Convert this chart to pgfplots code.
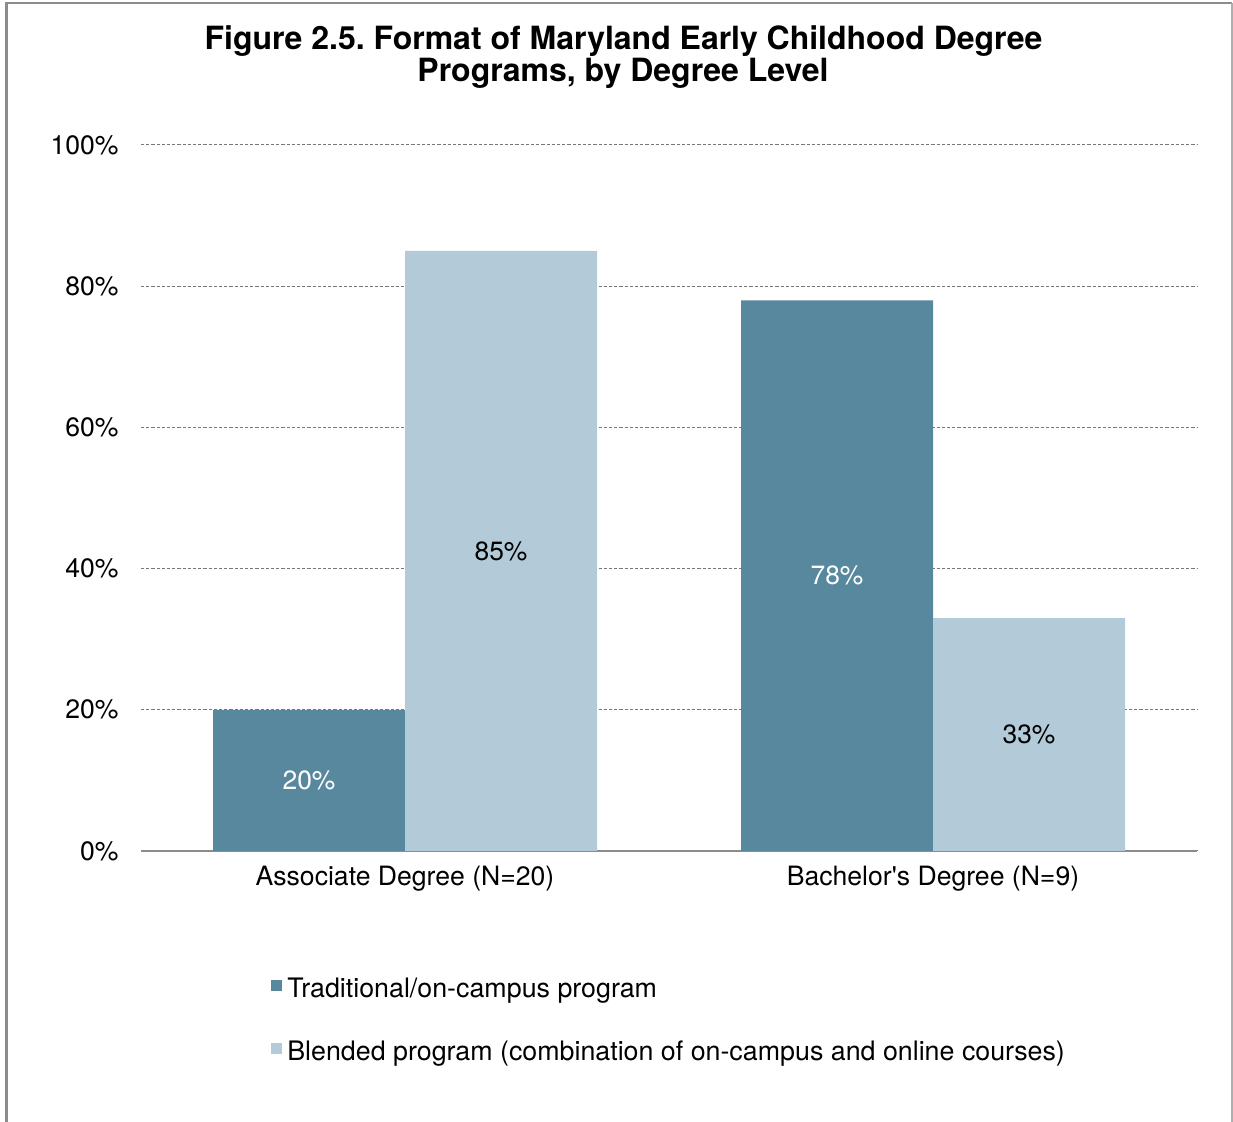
\documentclass[border=0pt]{standalone}
\usepackage{fontspec}
\setmainfont{TeX Gyre Heros}
\usepackage{pgfplots}
\pgfplotsset{compat=1.18}
\definecolor{darkbar}{RGB}{88,136,158}
\definecolor{lightbar}{RGB}{179,203,217}
\definecolor{gridgray}{RGB}{120,120,120}
\definecolor{framegray}{RGB}{140,140,140}
\frenchspacing
\begin{document}
\begin{tikzpicture}
\useasboundingbox (0pt,0pt) rectangle (616.5pt,561pt);
\draw[framegray, line width=1.2pt] (3.2pt,0pt) -- (3.2pt,559.6pt) -- (616pt,559.6pt);
\draw[framegray!70, line width=0.6pt] (616pt,559.6pt) -- (616pt,0pt);
\node[anchor=base, font=\fontsize{16}{16}\selectfont\bfseries] at (311.75pt,536pt) {Figure 2.5. Format of Maryland Early Childhood Degree};
\node[anchor=base, font=\fontsize{16}{16}\selectfont\bfseries] at (311.5pt,520pt) {Programs, by Degree Level};
\begin{axis}[
  at={(70.5pt,135.5pt)}, anchor=south west,
  scale only axis, width=528pt, height=353pt,
  ybar=0pt, bar width=96pt,
  xmin=-0.5, xmax=1.5, ymin=0, ymax=100,
  xtick={0,1},
  xticklabels={Associate Degree (N=20), Bachelor\textquotesingle s Degree (N=9)},
  ytick={0,20,40,60,80,100},
  yticklabels={0\%,20\%,40\%,60\%,80\%,100\%},
  ymajorgrids,
  grid style={gridgray, dash pattern=on 1.6pt off 1pt, line width=0.5pt},
  major tick length=0pt,
  axis x line*=bottom, axis y line*=left,
  y axis line style={draw=none},
  x axis line style={framegray, line width=1pt},
  tick label style={font=\fontsize{13.3}{15}\selectfont},
  yticklabel style={anchor=east, inner sep=0pt, xshift=-11pt},
  xticklabel style={anchor=base, inner sep=0pt, yshift=-17.5pt},
  /pgf/number format/assume math mode=true,
  nodes near coords={\pgfmathprintnumber{\pgfplotspointmeta}\%},
  visualization depends on={rawy \as \rawy},
  every node near coord/.append style={anchor=center, font=\fontsize{13.2}{15}\selectfont, yshift=-\rawy*1.765pt},
  legend style={at={(axis description cs:0.1226,-0.1799)}, anchor=north west, draw=none, fill=none,
    font=\fontsize{13.4}{15}\selectfont, row sep=19pt, column sep=2.5pt, inner sep=0pt,
    nodes={inner sep=0pt, text height=9.5pt, text depth=3pt}},
  legend cell align=left,
]
\addplot[fill=darkbar, draw=none, every node near coord/.append style={text=white},
  legend image code/.code={\fill[darkbar] (0pt,0pt) rectangle (5.75pt,5.3pt);}]
  coordinates {(0,20) (1,78)};
\addlegendentry{Traditional/on-campus program}
\addplot[fill=lightbar, draw=none, every node near coord/.append style={text=black},
  legend image code/.code={\fill[lightbar] (0pt,0pt) rectangle (5.75pt,5.3pt);}]
  coordinates {(0,85) (1,33)};
\addlegendentry{Blended program (combination of on-campus and online courses)}
\end{axis}
\end{tikzpicture}
\end{document}
